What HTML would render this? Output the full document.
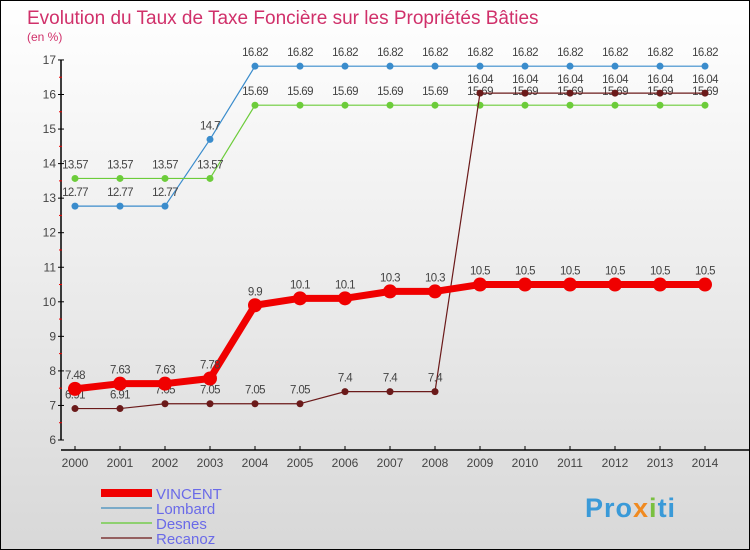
<!DOCTYPE html>
<html><head><meta charset="utf-8"><style>
body{margin:0}
#c{width:748px;height:548px;border:1px solid #000;background:linear-gradient(#fff 0%,#f0f0f0 40%,#d8d8d8 100%);position:relative;overflow:hidden;font-family:"Liberation Sans",sans-serif}
</style></head><body>
<div id="c">
<svg id="s" width="748" height="548"></svg>
</div>
<script>
const years=[2000,2001,2002,2003,2004,2005,2006,2007,2008,2009,2010,2011,2012,2013,2014];
const vincent=[7.48,7.63,7.63,7.78,9.9,10.1,10.1,10.3,10.3,10.5,10.5,10.5,10.5,10.5,10.5];
const lombard=[12.77,12.77,12.77,14.7,16.82,16.82,16.82,16.82,16.82,16.82,16.82,16.82,16.82,16.82,16.82];
const desnes=[13.57,13.57,13.57,13.57,15.69,15.69,15.69,15.69,15.69,15.69,15.69,15.69,15.69,15.69,15.69];
const recanoz=[6.91,6.91,7.05,7.05,7.05,7.05,7.4,7.4,7.4,16.04,16.04,16.04,16.04,16.04,16.04];
const yTicks=[6,7,8,9,10,11,12,13,14,15,16,17];
const NS="http://www.w3.org/2000/svg";
const s=document.getElementById('s');
const X=i=>74+45*i;
const Y=v=>439-(v-6)*34.55;
function el(t,a,txt,p){const e=document.createElementNS(NS,t);for(const k in a)e.setAttribute(k,a[k]);if(txt!=null)e.textContent=txt;(p||s).appendChild(e);return e;}
let e;
e=el('text',{x:26,y:23,'font-size':19,fill:'#d0306a','font-weight':'normal'},'Evolution du Taux de Taxe Foncière sur les Propriétés Bâties');

e=el('text',{x:26,y:40,'font-size':12,fill:'#d0306a'},'(en %)');

e=el('line',{x1:60,y1:Y(17),x2:60,y2:Y(6),stroke:'#000','stroke-width':1.5});

yTicks.forEach(v=>{
 e=el('line',{x1:57,y1:Y(v),x2:63,y2:Y(v),stroke:'#000'});
 
 e=el('text',{x:55,y:Y(v)+4,'font-size':12,fill:'#444','text-anchor':'end'},v);
 
 if(v<17){e=el('line',{x1:58,y1:Y(v+0.5),x2:61,y2:Y(v+0.5),stroke:'#e00'});
 }
});
e=el('line',{x1:60,y1:449,x2:748,y2:449,stroke:'#000','stroke-width':1.5});

years.forEach((y,i)=>{
 e=el('line',{x1:X(i),y1:445,x2:X(i),y2:449,stroke:'#000'});
 
 e=el('text',{x:X(i),y:466,'font-size':12,fill:'#444','text-anchor':'middle'},y);
 
});
function series(d,color,w,r,name){
 e=el('polyline',{points:d.map((v,i)=>X(i)+','+Y(v)).join(' '),fill:'none',stroke:color,'stroke-width':w,'stroke-linejoin':'round'});
 
 d.forEach((v,i)=>{
  e=el('circle',{cx:X(i),cy:Y(v),r:r,fill:color});
  
  e=el('text',{x:X(i),y:Y(v)-10,'font-size':11.5,fill:'#444','text-anchor':'middle','letter-spacing':'-0.6'},v);
  
 });
}
series(lombard,'#3a8ccc',1.2,3.5,'lombard');
series(desnes,'#6ccc3a',1.2,3.5,'desnes');
series(recanoz,'#6b1a1a',1.2,3.5,'recanoz');
series(vincent,'#f00000',7,7,'vincent');
const leg=[['VINCENT','#f00000',8],['Lombard','#7aaac8',2],['Desnes','#8ed070',2],['Recanoz','#946060',2]];
leg.forEach((l,i)=>{
 const y=492+i*15;
 e=el('line',{x1:100,y1:y,x2:151,y2:y,stroke:l[1],'stroke-width':l[2]});
 
 e=el('text',{x:155,y:y+6,'font-size':15,fill:'#6a6ae8'},l[0]);
 
});
const logo=el('text',{x:584,y:516,'font-size':27,'font-weight':'bold',fill:'#3a9ad8','letter-spacing':'1'});


el('tspan',{},'Pro',logo);
el('tspan',{fill:'#f08a20'},'x',logo);
el('tspan',{fill:'#7ac040'},'i',logo);
el('tspan',{},'ti',logo);
</script>
</body></html>
